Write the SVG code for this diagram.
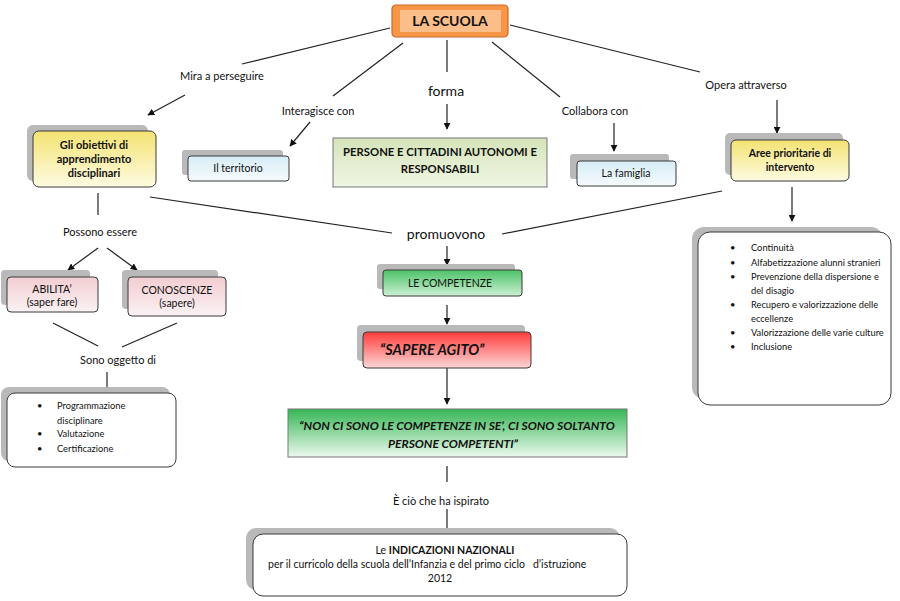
<svg xmlns="http://www.w3.org/2000/svg" width="900" height="601" viewBox="0 0 900 601">
<defs>
<linearGradient id="gYellow" x1="0" y1="0" x2="0" y2="1"><stop offset="0" stop-color="#f4e372"/><stop offset="1" stop-color="#fdfbe2"/></linearGradient>
<linearGradient id="gBlue" x1="0" y1="0" x2="0" y2="1"><stop offset="0" stop-color="#d6ecf6"/><stop offset="1" stop-color="#f6fbfd"/></linearGradient>
<linearGradient id="gSage" x1="0" y1="0" x2="0" y2="1"><stop offset="0" stop-color="#d5e4ba"/><stop offset="1" stop-color="#eff6e4"/></linearGradient>
<linearGradient id="gGreen" x1="0" y1="0" x2="0" y2="1"><stop offset="0" stop-color="#4cc268"/><stop offset="1" stop-color="#cdf0d4"/></linearGradient>
<linearGradient id="gRed" x1="0" y1="0" x2="0" y2="1"><stop offset="0" stop-color="#ff3c3c"/><stop offset="1" stop-color="#fcd6d6"/></linearGradient>
<linearGradient id="gQuote" x1="0" y1="0" x2="0" y2="1"><stop offset="0" stop-color="#36b655"/><stop offset="1" stop-color="#ecf9ee"/></linearGradient>
<linearGradient id="gPink" x1="0" y1="0" x2="0" y2="1"><stop offset="0" stop-color="#f2cdd2"/><stop offset="1" stop-color="#fbf2f3"/></linearGradient>
<marker id="arr" viewBox="0 0 10 10" refX="9" refY="5" markerWidth="7" markerHeight="7" orient="auto" markerUnits="userSpaceOnUse"><path d="M0,0 L10,5 L0,10 z" fill="#111"/></marker>
</defs>
<style>
text{font-family:Lato,"Liberation Sans",sans-serif;fill:#111;}
.lbl{font-size:11px;text-anchor:middle;}
.big{font-size:14px;text-anchor:middle;}
.nt{font-size:10.5px;font-weight:bold;text-anchor:middle;}
.n{font-size:10.5px;text-anchor:middle;}
.li{font-size:9.3px;}
.sh{fill:#b9b9b9;}
.bx{stroke:#3a3a3a;stroke-width:1;}
.ln{stroke:#222;stroke-width:1.2;fill:none;}
.ar{stroke:#222;stroke-width:1.2;fill:none;marker-end:url(#arr);}
</style>
<rect width="900" height="601" fill="#fff"/>

<g id="connectors">
<line class="ln" x1="390" y1="28" x2="242" y2="64"/>
<line class="ar" x1="185" y1="95" x2="148" y2="115"/>
<line class="ln" x1="403" y1="43" x2="333" y2="96"/>
<line class="ar" x1="310" y1="122" x2="290" y2="146"/>
<line class="ln" x1="447" y1="40" x2="447" y2="72"/>
<line class="ar" x1="447" y1="104" x2="447" y2="129"/>
<line class="ln" x1="492" y1="42" x2="560" y2="97"/>
<line class="ar" x1="614" y1="123" x2="614" y2="151"/>
<line class="ln" x1="510" y1="25" x2="700" y2="72"/>
<line class="ar" x1="777" y1="100" x2="777" y2="133"/>
<line class="ln" x1="98" y1="193" x2="98" y2="215"/>
<line class="ln" x1="150" y1="197" x2="392" y2="233"/>
<line class="ln" x1="502" y1="234" x2="722" y2="191"/>
<line class="ar" x1="792" y1="187" x2="792" y2="221"/>
<line class="ar" x1="98" y1="248" x2="68" y2="270"/>
<line class="ar" x1="107" y1="248" x2="137" y2="270"/>
<line class="ln" x1="53" y1="323" x2="98" y2="346"/>
<line class="ln" x1="177" y1="323" x2="122" y2="347"/>
<line class="ln" x1="107" y1="372" x2="107" y2="392"/>
<line class="ar" x1="447" y1="246" x2="447" y2="265"/>
<line class="ar" x1="447" y1="305" x2="447" y2="324"/>
<line class="ar" x1="447" y1="368" x2="447" y2="404"/>
<line class="ln" x1="447" y1="466" x2="447" y2="482"/>
<line class="ar" x1="447" y1="509" x2="447" y2="535"/>
</g>

<g id="la-scuola">
<rect x="392" y="5" width="116" height="32" rx="4" fill="#f79646" stroke="#c8692a" stroke-width="1.2"/>
<rect x="400" y="10" width="101" height="22" fill="#fbbd89"/>
<text x="450" y="26" style="font-size:14px;font-weight:bold;text-anchor:middle">LA SCUOLA</text>
</g>

<g id="labels">
<text class="lbl" x="222" y="80">Mira a perseguire</text>
<text class="lbl" x="318" y="115">Interagisce con</text>
<text class="big" x="446" y="96">forma</text>
<text class="lbl" x="595" y="115">Collabora con</text>
<text class="lbl" x="746" y="89">Opera attraverso</text>
<text class="lbl" x="100" y="236">Possono essere</text>
<text class="big" x="446" y="239">promuovono</text>
<text class="lbl" x="118" y="364">Sono oggetto di</text>
<text class="lbl" x="441" y="505">È ciò che ha ispirato</text>
</g>

<g id="obiettivi">
<rect class="sh" x="27" y="125" width="121" height="56" rx="6"/>
<rect class="bx" x="33" y="131" width="123" height="56" rx="6" fill="url(#gYellow)"/>
<text class="nt" x="94" y="149" style="font-size:11px">Gli obiettivi di</text>
<text class="nt" x="94" y="163" style="font-size:11px">apprendimento</text>
<text class="nt" x="94" y="177" style="font-size:11px">disciplinari</text>
</g>

<g id="territorio">
<rect class="sh" x="182" y="150" width="101" height="25" rx="3"/>
<rect class="bx" x="188" y="156" width="101" height="25" rx="3" fill="url(#gBlue)"/>
<text class="n" x="238" y="172">Il territorio</text>
</g>

<g id="persone">
<rect x="333" y="138" width="214" height="49" fill="url(#gSage)" stroke="#777" stroke-width="1"/>
<text class="nt" x="440" y="156" style="font-size:11.3px">PERSONE E CITTADINI AUTONOMI E</text>
<text class="nt" x="440" y="173" style="font-size:11.3px">RESPONSABILI</text>
</g>

<g id="famiglia">
<rect class="sh" x="570" y="154" width="99" height="25" rx="3"/>
<rect class="bx" x="577" y="161" width="99" height="25" rx="3" fill="url(#gBlue)"/>
<text class="n" x="626" y="177">La famiglia</text>
</g>

<g id="aree">
<rect class="sh" x="725" y="133" width="118" height="42" rx="5"/>
<rect class="bx" x="731" y="140" width="118" height="41" rx="5" fill="url(#gYellow)"/>
<text class="nt" x="790" y="157">Aree prioritarie di</text>
<text class="nt" x="790" y="171">intervento</text>
</g>

<g id="aree-lista">
<rect class="sh" x="692" y="227" width="191" height="172" rx="12"/>
<rect class="bx" x="698" y="232" width="193" height="173" rx="12" fill="#fff"/>
<text class="li" x="730" y="251">•</text><text class="li" x="751" y="251">Continuità</text>
<text class="li" x="730" y="266">•</text><text class="li" x="751" y="266">Alfabetizzazione alunni stranieri</text>
<text class="li" x="730" y="280">•</text><text class="li" x="751" y="280">Prevenzione della dispersione e</text>
<text class="li" x="751" y="294">del disagio</text>
<text class="li" x="730" y="308">•</text><text class="li" x="751" y="308">Recupero e valorizzazione delle</text>
<text class="li" x="751" y="322">eccellenze</text>
<text class="li" x="730" y="336">•</text><text class="li" x="751" y="336">Valorizzazione delle varie culture</text>
<text class="li" x="730" y="350">•</text><text class="li" x="751" y="350">Inclusione</text>
</g>

<g id="abilita">
<rect class="sh" x="1" y="270" width="89" height="35" rx="4"/>
<rect class="bx" x="7" y="277" width="91" height="35" rx="4" fill="url(#gPink)"/>
<text class="n" x="52" y="293">ABILITA’</text>
<text class="n" x="52" y="306">(saper fare)</text>
</g>

<g id="conoscenze">
<rect class="sh" x="122" y="270" width="96" height="39" rx="4"/>
<rect class="bx" x="128" y="277" width="98" height="39" rx="4" fill="url(#gPink)"/>
<text class="n" x="177" y="294">CONOSCENZE</text>
<text class="n" x="177" y="307">(sapere)</text>
</g>

<g id="oggetto-lista">
<rect class="sh" x="1" y="387" width="169" height="74" rx="8"/>
<rect class="bx" x="7" y="393" width="169" height="74" rx="8" fill="#fff"/>
<text class="li" x="37" y="409">•</text><text class="li" x="57" y="409">Programmazione</text>
<text class="li" x="57" y="424">disciplinare</text>
<text class="li" x="37" y="437">•</text><text class="li" x="57" y="437">Valutazione</text>
<text class="li" x="37" y="452">•</text><text class="li" x="57" y="452">Certificazione</text>
</g>

<g id="competenze">
<rect class="sh" x="377" y="264" width="138" height="25" rx="3"/>
<rect class="bx" x="383" y="270" width="139" height="26" rx="3" fill="url(#gGreen)"/>
<text class="n" x="450" y="287">LE COMPETENZE</text>
</g>

<g id="sapere-agito">
<rect class="sh" x="357" y="325" width="168" height="36" rx="4"/>
<rect class="bx" x="363" y="332" width="168" height="36" rx="4" fill="url(#gRed)"/>
<text x="380" y="355" style="font-size:14.5px;font-weight:bold;font-style:italic">“SAPERE AGITO”</text>
</g>

<g id="citazione">
<rect x="288" y="409" width="339" height="48" fill="url(#gQuote)" stroke="#777" stroke-width="1"/>
<text x="457" y="430" style="font-size:12px;font-weight:bold;font-style:italic;text-anchor:middle">“NON CI SONO LE COMPETENZE IN SE’, CI SONO SOLTANTO</text>
<text x="453" y="448" style="font-size:12px;font-weight:bold;font-style:italic;text-anchor:middle">PERSONE COMPETENTI”</text>
</g>

<g id="indicazioni">
<rect class="sh" x="246" y="528" width="374" height="62" rx="10"/>
<rect class="bx" x="253" y="534" width="374" height="62" rx="10" fill="#fff"/>
<text x="445" y="554" style="font-size:10.5px;text-anchor:middle">Le <tspan font-weight="bold">INDICAZIONI NAZIONALI</tspan></text>
<text x="268" y="568" style="font-size:10.5px" xml:space="preserve">per il curricolo della scuola dell’Infanzia e del primo ciclo   d’istruzione</text>
<text x="440" y="582" style="font-size:10.5px;text-anchor:middle">2012</text>
</g>
</svg>
